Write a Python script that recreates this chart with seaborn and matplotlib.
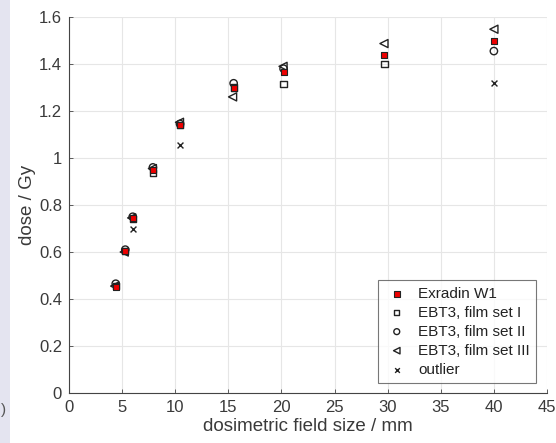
import matplotlib
matplotlib.use("Agg")
import matplotlib.pyplot as plt
import seaborn as sns
import pandas as pd
from matplotlib.patches import Rectangle

# data
exradin_x = [4.4, 5.3, 6.0, 7.9, 10.45, 15.5, 20.2, 29.7, 40.0]
exradin_y = [0.45, 0.605, 0.745, 0.95, 1.14, 1.30, 1.365, 1.44, 1.50]

set1_x = [4.4, 5.3, 6.0, 7.9, 10.45, 15.5, 20.2, 29.7]
set1_y = [0.455, 0.605, 0.74, 0.935, 1.14, 1.30, 1.315, 1.40]

set2_x = [4.4, 5.3, 6.0, 7.9, 10.45, 15.5, 20.2, 40.0]
set2_y = [0.465, 0.61, 0.75, 0.96, 1.145, 1.318, 1.38, 1.455]

set3_x = [4.3, 5.2, 5.9, 7.85, 10.4, 15.4, 20.15, 29.65, 40.0]
set3_y = [0.455, 0.60, 0.745, 0.955, 1.152, 1.26, 1.39, 1.487, 1.548]

outlier_x = [6.0, 10.45, 40.0]
outlier_y = [0.70, 1.055, 1.32]

labels = ["Exradin W1", "EBT3, film set I", "EBT3, film set II",
          "EBT3, film set III", "outlier"]

sns.set_style("white")
plt.rcParams["font.family"] = ["Liberation Sans", "DejaVu Sans"]

fig = plt.figure(figsize=(5.56, 4.43), dpi=100)
fig.patches.append(Rectangle((0, 0), 10 / 556, 1, transform=fig.transFigure,
                             facecolor="#e4e4f0", edgecolor="none", zorder=0))
fig.text(0.002, (443 - 410) / 443, ")", fontsize=11, color="#555555",
         ha="left", va="center")
ax = fig.add_axes([69 / 556, 50 / 443, 478 / 556, 376 / 443])

df_ex = pd.DataFrame({"x": exradin_x, "y": exradin_y})
df1 = pd.DataFrame({"x": set1_x, "y": set1_y})
df2 = pd.DataFrame({"x": set2_x, "y": set2_y})
df3 = pd.DataFrame({"x": set3_x, "y": set3_y})
dfo = pd.DataFrame({"x": outlier_x, "y": outlier_y})

sns.scatterplot(data=df1, x="x", y="y", ax=ax, marker="s", s=20,
                facecolor="none", edgecolor="#222222", linewidth=1.0,
                label=labels[1], zorder=3)
sns.scatterplot(data=df2, x="x", y="y", ax=ax, marker="o", s=28,
                facecolor="none", edgecolor="#222222", linewidth=1.0,
                label=labels[2], zorder=3)
sns.scatterplot(data=df3, x="x", y="y", ax=ax, marker="<", s=34,
                facecolor="none", edgecolor="#222222", linewidth=1.0,
                label=labels[3], zorder=3)
sns.scatterplot(data=dfo, x="x", y="y", ax=ax, marker="x", s=18,
                color="#222222", linewidth=1.0,
                label=labels[4], zorder=3)
sns.scatterplot(data=df_ex, x="x", y="y", ax=ax, marker="s", s=24,
                facecolor="#ee0000", edgecolor="#222222", linewidth=0.8,
                label=labels[0], zorder=4)

ax.set_xlim(0, 45)
ax.set_ylim(0, 1.6)
ax.set_xticks(range(0, 46, 5))
ax.set_yticks([0, 0.2, 0.4, 0.6, 0.8, 1.0, 1.2, 1.4, 1.6])
ax.set_yticklabels(["0", "0.2", "0.4", "0.6", "0.8", "1", "1.2", "1.4", "1.6"])
ax.grid(True, color="#e6e6e6", linewidth=0.8)
ax.set_axisbelow(True)
for side in ["top", "right"]:
    ax.spines[side].set_visible(False)
for side in ["left", "bottom"]:
    ax.spines[side].set_color("#444444")
    ax.spines[side].set_linewidth(0.8)
ax.tick_params(direction="in", length=3, width=0.6, colors="#444444",
               labelcolor="#3a3a3a", labelsize=12, bottom=True, left=True,
               pad=5)
ax.set_xlabel("dosimetric field size / mm", fontsize=13.5, color="#3a3a3a",
              labelpad=2)
ax.set_ylabel("dose / Gy", fontsize=13.5, color="#3a3a3a", labelpad=2)

handles, labs = ax.get_legend_handles_labels()
order = [labs.index(l) for l in labels]
leg = ax.legend([handles[i] for i in order], [labs[i] for i in order],
                loc="lower right", bbox_to_anchor=(0.977, 0.027),
                borderaxespad=0.0,
                fontsize=11, frameon=True, fancybox=False,
                edgecolor="#555555", handletextpad=0.6, borderpad=0.4,
                labelspacing=0.33, markerscale=0.8, handlelength=1.6)
leg.get_frame().set_linewidth(0.8)
for t in leg.get_texts():
    t.set_color("#222222")

fig.savefig("out.png", dpi=100)
